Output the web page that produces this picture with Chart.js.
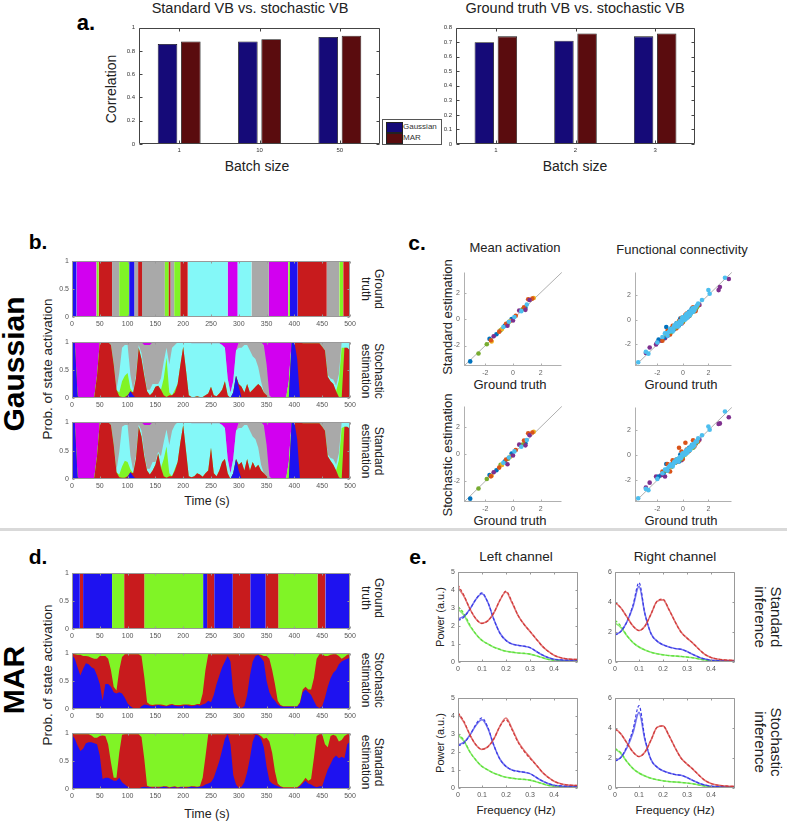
<!DOCTYPE html>
<html><head><meta charset="utf-8">
<script src="https://cdn.jsdelivr.net/npm/chart.js@4.4.1/dist/chart.umd.min.js"></script>
<style>
body{margin:0;background:#fff;width:787px;height:822px;position:relative;overflow:hidden;font-family:"Liberation Sans",Arial,Helvetica,sans-serif;color:#222}
canvas{position:absolute}
.t{position:absolute;white-space:nowrap;transform:translate(-50%,-50%);line-height:1.08;text-align:center}
.rl{transform:translate(-50%,-50%) rotate(-90deg)}
.rr{transform:translate(-50%,-50%) rotate(90deg)}
.b{font-weight:bold;color:#000}
.lg{position:absolute;left:382px;top:119px;width:58px;height:24px;border:1px solid #555;background:#fff;font-size:8px;color:#333}
.lg div{position:absolute;left:3px;width:15px;height:9px;border:1px solid #222}
.lg span{position:absolute;left:20px}
</style></head><body>

<div class="t b" style="left:86px;top:23px;font-size:22px">a.</div>
<div class="t" style="left:250px;top:9px;font-size:14.5px">Standard VB vs. stochastic VB</div>
<div class="t" style="left:575px;top:9px;font-size:14.5px">Ground truth VB vs. stochastic VB</div>
<div class="t rl" style="left:112px;top:89px;font-size:14px">Correlation</div>
<div class="t" style="left:257px;top:167px;font-size:14px">Batch size</div>
<div class="t" style="left:575px;top:167px;font-size:14px">Batch size</div>
<div class="lg"><div style="top:2px;background:#150a78"></div><span style="top:2px">Gaussian</span><div style="top:13px;background:#5a0c0e"></div><span style="top:13px">MAR</span></div>

<div class="t b" style="left:38px;top:242px;font-size:21px">b.</div>
<div class="t b rl" style="left:14px;top:364px;font-size:30px">Gaussian</div>
<div class="t rl" style="left:48px;top:369px;font-size:13.5px">Prob. of state activation</div>
<div class="t rr" style="left:372px;top:289px;font-size:12px">Ground<br>truth</div>
<div class="t rr" style="left:372px;top:371px;font-size:12px">Stochastic<br>estimation</div>
<div class="t rr" style="left:372px;top:451px;font-size:12px">Standard<br>estimation</div>
<div class="t" style="left:207px;top:502px;font-size:12.5px">Time (s)</div>

<div class="t b" style="left:417px;top:243px;font-size:21px">c.</div>
<div class="t" style="left:515px;top:248px;font-size:13px">Mean activation</div>
<div class="t" style="left:682px;top:250px;font-size:13px">Functional connectivity</div>
<div class="t rl" style="left:448px;top:317px;font-size:13px">Standard estimation</div>
<div class="t rl" style="left:448px;top:455px;font-size:13px">Stochastic estimation</div>
<div class="t" style="left:510px;top:385px;font-size:13px">Ground truth</div>
<div class="t" style="left:681px;top:385px;font-size:13px">Ground truth</div>
<div class="t" style="left:510px;top:521px;font-size:13px">Ground truth</div>
<div class="t" style="left:681px;top:521px;font-size:13px">Ground truth</div>

<div style="position:absolute;left:0;top:528px;width:787px;height:3px;background:#d9d9d9"></div>

<div class="t b" style="left:38px;top:557px;font-size:21px">d.</div>
<div class="t b rl" style="left:14px;top:680px;font-size:30px">MAR</div>
<div class="t rl" style="left:48px;top:675px;font-size:13.5px">Prob. of state activation</div>
<div class="t rr" style="left:372px;top:598px;font-size:12px">Ground<br>truth</div>
<div class="t rr" style="left:372px;top:680px;font-size:12px">Stochastic<br>estimation</div>
<div class="t rr" style="left:372px;top:762px;font-size:12px">Standard<br>estimation</div>
<div class="t" style="left:207px;top:815px;font-size:12.5px">Time (s)</div>

<div class="t b" style="left:418px;top:557px;font-size:21px">e.</div>
<div class="t" style="left:516px;top:557px;font-size:13.5px">Left channel</div>
<div class="t" style="left:675px;top:557px;font-size:13.5px">Right channel</div>
<div class="t rl" style="left:441px;top:617px;font-size:11px">Power (a.u.)</div>
<div class="t rl" style="left:441px;top:743px;font-size:11px">Power (a.u.)</div>
<div class="t" style="left:516px;top:810px;font-size:11.5px">Frequency (Hz)</div>
<div class="t" style="left:675px;top:810px;font-size:11.5px">Frequency (Hz)</div>
<div class="t rr" style="left:768px;top:617px;font-size:15px">Standard<br>inference</div>
<div class="t rr" style="left:768px;top:742px;font-size:15px">Stochastic<br>inference</div>

<script>
// ---------- a. correlation bars ----------
const batchLeft = ['1','10','50'];
const batchRight = ['1','2','3'];
const corrStdGauss = [0.86,0.88,0.92];
const corrStdMar = [0.88,0.90,0.93];
const corrGtGauss = [0.70,0.71,0.74];
const corrGtMar = [0.74,0.76,0.76];

// ---------- b./d. time axis ----------
const T5=[0,5,10,15,20,25,30,35,40,45,50,55,60,65,70,75,80,85,90,95,100,105,110,115,120,125,130,135,140,145,150,155,160,165,170,175,180,185,190,195,200,205,210,215,220,225,230,235,240,245,250,255,260,265,270,275,280,285,290,295,300,305,310,315,320,325,330,335,340,345,350,355,360,365,370,375,380,385,390,395,400,405,410,415,420,425,430,435,440,445,450,455,460,465,470,475,480,485,490,495,500];

// Gaussian ground truth segments
const gaussGtBounds=[0,8,44,48,72,85,103,112,119,126,167,174,177,184,195,208,280,298,323,354,389,392,406,458,481,488,500];
const gaussGtStates=['blue','magenta','green','red','gray','green','blue','gray','red','gray','green','red','gray','green','red','cyan','magenta','cyan','gray','magenta','green','blue','red','gray','green','red'];
// MAR ground truth segments
const marGtBounds=[0,14,20,72,94,130,236,243,256,289,321,348,371,442,456,500];
const marGtStates=['blue','red','blue','green','red','green','blue','red','blue','red','blue','red','green','red','blue'];

// Gaussian stochastic estimation
const gsBlue=[1,1,0.03,0,0,0,0,0,0,0, 0,0,0,0,0,0,0,0,0,0, 0.03,0.12,0.05,0,0,0,0,0,0,0, 0,0,0,0,0,0,0,0,0,0, 0,0,0,0,0,0,0,0,0,0, 0,0,0,0,0,0,0,0,0.1,0.4, 0.2,0,0,0,0,0,0,0,0,0, 0,0,0,0,0,0,0,0,0,1, 1,0.7,0,0,0,0,0,0,0,0, 0,0,0,0,0,0,0,0,0,0, 0];
const gsRed=[0,0,0,0,0,0,0,0,0.02,0.4, 1,1,1,1,0.95,0.6,0.15,0.03,0.02,0.02, 0.02,0,0.05,0.35,0.9,0.7,0.4,0.12,0.05,0.1, 0.2,0.22,0.15,0.05,0.02,0.05,0.05,0.1,0.25,0.6, 0.92,0.5,0.05,0.02,0.02,0.03,0.02,0.02,0.05,0.08, 0.2,0.05,0.03,0.08,0.15,0.3,0.05,0,0,0, 0.05,0.2,0.1,0.25,0.1,0.15,0.2,0.25,0.2,0.1, 0.05,0,0,0,0,0,0,0,0,0, 0,0.3,1,0.98,0.98,0.98,0.98,0.98,0.98,0.98, 0.92,0.85,0.38,0.3,0.25,0.12,0.02,0,0.9,0.9, 0.85];
const gsGreen=[0,0,0,0,0,0,0,0,0,0, 0,0,0,0,0,0,0,0.07,0.28,0.38, 0.4,0.05,0,0,0,0,0,0,0,0, 0,0,0,0.3,0.7,0.05,0,0.05,0,0, 0,0,0,0,0,0,0,0,0,0, 0,0,0,0,0,0,0,0,0,0, 0,0,0,0,0,0,0,0,0,0, 0,0,0,0,0,0,0,0,0.3,0, 0,0,0,0,0,0,0,0,0,0, 0,0,0,0,0,0,0.3,0.9,0,0, 0];
const gsCyan=[0,0,0,0,0,0,0,0,0,0, 0,0,0,0,0,0,0,0.35,0.6,0.55, 0.5,0.25,0.05,0.05,0.05,0.1,0.05,0.03,0.1,0.15, 0.05,0.03,0.2,0.3,0.18,0.5,0.85,0.8,0.75,0.4, 0.08,0.5,0.95,0.96,0.96,0.95,0.96,0.96,0.93,0.9, 0.78,0.93,0.95,0.9,0.8,0.6,0.3,0.1,0.2,0.45, 0.65,0.7,0.85,0.7,0.75,0.6,0.5,0.3,0.1,0, 0,0,0,0,0,0,0,0,0,0, 0,0,0,0,0,0,0,0,0,0, 0,0,0.03,0.05,0.08,0.1,0.1,0.1,0.1,0.1, 0.15];
const gsGray=[0,0,0,0,0,0,0,0,0,0, 0,0,0,0,0.05,0.4,0.85,0.55,0.1,0.05, 0.05,0.58,0.85,0.6,0.05,0.2,0.5,0.8,0.8,0.75, 0.75,0.75,0.65,0.35,0.1,0.4,0.1,0.05,0,0, 0,0,0,0,0,0,0,0,0,0, 0,0,0,0,0,0,0,0,0,0, 0.1,0.1,0.05,0.05,0.15,0.25,0.3,0.45,0.7,0.85, 0.55,0.05,0,0,0,0,0,0,0,0, 0,0,0,0.02,0.02,0.02,0.02,0.02,0.02,0.02, 0.08,0.15,0.59,0.65,0.67,0.78,0.58,0,0,0, 0];
const gsMagenta=[0,0,0.97,1,1,1,1,1,0.98,0.6, 0,0,0,0,0,0,0,0,0,0, 0,0,0,0,0,0,0.05,0.05,0.05,0, 0,0,0,0,0,0,0,0,0,0, 0,0,0,0.02,0.02,0.02,0.02,0.02,0.02,0.02, 0.02,0.02,0.02,0.02,0.05,0.1,0.65,0.9,0.7,0.15, 0,0,0,0,0,0,0,0,0,0.05, 0.4,0.95,1,1,1,1,1,1,0.7,0, 0,0,0,0,0,0,0,0,0,0, 0,0,0,0,0,0,0,0,0,0, 0];

// Gaussian standard estimation
const gdBlue=[1,1,0.03,0,0,0,0,0,0,0, 0,0,0,0,0,0,0,0,0,0, 0.03,0.12,0.05,0,0,0,0,0,0,0, 0,0,0,0,0,0,0,0,0,0, 0,0,0,0,0,0,0,0,0,0, 0,0,0,0,0,0,0,0,0.1,0.35, 0.15,0,0,0,0,0,0,0,0,0, 0,0,0,0,0,0,0,0,0,1, 1,0.7,0,0,0,0,0,0,0,0, 0,0,0,0,0,0,0,0,0,0, 0];
const gdRed=[0,0,0,0,0,0,0,0,0.02,0.4, 1,1,1,1,0.95,0.6,0.12,0.03,0.02,0.02, 0.02,0,0.05,0.35,0.92,0.75,0.4,0.15,0.08,0.15, 0.25,0.45,0.2,0.05,0.02,0.05,0.05,0.15,0.3,0.65, 0.95,0.5,0.05,0.03,0.05,0.1,0.08,0.04,0.1,0.15, 0.55,0.1,0.05,0.15,0.3,0.35,0.1,0,0,0, 0.1,0.3,0.15,0.35,0.15,0.3,0.2,0.25,0.15,0.1, 0.05,0,0,0,0,0,0,0,0,0, 0,0.3,1,0.98,0.98,0.98,0.98,0.98,0.98,0.98, 0.92,0.85,0.4,0.32,0.25,0.15,0.03,0,0.92,0.92, 0.88];
const gdGreen=[0,0,0,0,0,0,0,0,0,0, 0,0,0,0,0,0,0,0.05,0.2,0.3, 0.25,0.05,0,0,0,0,0,0,0,0, 0,0,0,0.3,0.55,0.05,0,0.03,0,0, 0,0,0,0,0,0,0,0,0,0, 0,0,0,0,0,0,0,0,0,0, 0,0,0,0,0,0,0,0,0,0, 0,0,0,0,0,0,0,0,0.3,0, 0,0,0,0,0,0,0,0,0,0, 0,0,0,0,0,0,0.3,0.9,0,0, 0];
const gdCyan=[0,0,0,0,0,0,0,0,0,0, 0,0,0,0,0,0,0.03,0.4,0.7,0.63, 0.65,0.25,0.05,0.05,0.04,0.1,0.05,0.03,0.1,0.15, 0.05,0.03,0.2,0.3,0.3,0.5,0.8,0.77,0.7,0.35, 0.05,0.5,0.95,0.95,0.93,0.88,0.9,0.94,0.88,0.83, 0.43,0.88,0.93,0.83,0.65,0.55,0.25,0.1,0.25,0.5, 0.65,0.6,0.8,0.6,0.7,0.45,0.5,0.3,0.1,0, 0,0,0,0,0,0,0,0,0,0, 0,0,0,0,0,0,0,0,0,0, 0,0,0.03,0.05,0.1,0.1,0.12,0.1,0.08,0.08, 0.12];
const gdGray=[0,0,0,0,0,0,0,0,0,0, 0,0,0,0,0.05,0.4,0.85,0.52,0.08,0.05, 0.05,0.58,0.85,0.6,0.04,0.15,0.5,0.77,0.77,0.7, 0.7,0.52,0.6,0.35,0.13,0.4,0.15,0.05,0,0, 0,0,0,0,0,0,0,0,0,0, 0,0,0,0,0,0,0,0,0,0, 0.1,0.1,0.05,0.05,0.15,0.25,0.3,0.45,0.75,0.85, 0.55,0.05,0,0,0,0,0,0,0,0, 0,0,0,0.02,0.02,0.02,0.02,0.02,0.02,0.02, 0.08,0.15,0.57,0.63,0.65,0.75,0.55,0,0,0, 0];
const gdMagenta=[0,0,0.97,1,1,1,1,1,0.98,0.6, 0,0,0,0,0,0,0,0,0,0, 0,0,0,0,0,0,0.05,0.05,0.05,0, 0,0,0,0,0,0,0,0,0,0, 0,0,0,0.02,0.02,0.02,0.02,0.02,0.02,0.02, 0.02,0.02,0.02,0.02,0.05,0.1,0.65,0.9,0.65,0.15, 0,0,0,0,0,0,0,0,0,0.05, 0.4,0.95,1,1,1,1,1,1,0.7,0, 0,0,0,0,0,0,0,0,0,0, 0,0,0,0,0,0,0,0,0,0, 0];

// MAR stochastic estimation
const msBlue=[0.97,0.9,0.75,0.6,0.72,0.82,0.8,0.75,0.72,0.6, 0.45,0.15,0.45,0.45,0.4,0.3,0.28,0.3,0.28,0.2, 0.1,0.05,0.02,0.01,0,0.05,0.08,0.07,0.06,0.05, 0.06,0.07,0.06,0.05,0.05,0.06,0.07,0.06,0.05,0.05, 0.06,0.07,0.06,0.05,0.06,0.07,0.06,0.08,0.1,0.15, 0.12,0.25,0.45,0.6,0.75,0.85,0.95,0.85,0.3,0.1, 0.03,0.02,0.05,0.25,0.6,0.85,0.95,0.97,0.92,0.85, 0.5,0.3,0.2,0.15,0.08,0.05,0.04,0.04,0.04,0.04, 0.04,0.04,0.1,0.3,0.35,0.3,0.25,0.15,0.05,0.02, 0.05,0.2,0.4,0.55,0.65,0.7,0.8,0.85,0.88,0.9, 0.92];
const msRed=[0.02,0.08,0.22,0.37,0.23,0.13,0.14,0.17,0.18,0.3, 0.5,0.8,0.5,0.45,0.3,0.1,0.05,0.4,0.65,0.78, 0.88,0.93,0.96,0.97,0.98,0.9,0.5,0.05,0.02,0.02, 0.02,0.01,0.02,0.02,0.01,0.02,0.02,0.01,0.02,0.02, 0.02,0.01,0.02,0.02,0.01,0.02,0.03,0.2,0.6,0.83, 0.86,0.73,0.53,0.38,0.23,0.13,0.03,0.13,0.68,0.88, 0.95,0.96,0.93,0.73,0.38,0.13,0.03,0.01,0.05,0.1, 0.45,0.6,0.5,0.3,0.07,0.02,0.01,0.01,0.01,0.01, 0.01,0.01,0.02,0.05,0.05,0.05,0.1,0.4,0.85,0.96, 0.93,0.75,0.55,0.42,0.33,0.28,0.15,0.05,0.05,0.07, 0.06];
const msGreen=[0.01,0.02,0.03,0.03,0.05,0.05,0.06,0.08,0.1,0.1, 0.05,0.05,0.05,0.1,0.3,0.6,0.67,0.3,0.07,0.02, 0.02,0.02,0.02,0.02,0.02,0.05,0.42,0.88,0.92,0.93, 0.92,0.92,0.92,0.93,0.94,0.92,0.91,0.93,0.93,0.93, 0.92,0.92,0.92,0.93,0.93,0.91,0.91,0.72,0.3,0.02, 0.02,0.02,0.02,0.02,0.02,0.02,0.02,0.02,0.02,0.02, 0.02,0.02,0.02,0.02,0.02,0.02,0.02,0.02,0.03,0.05, 0.05,0.1,0.3,0.55,0.85,0.93,0.95,0.95,0.95,0.95, 0.95,0.95,0.88,0.65,0.6,0.65,0.65,0.45,0.1,0.02, 0.02,0.05,0.05,0.03,0.02,0.02,0.05,0.1,0.07,0.03, 0.02];

// MAR standard estimation
const mdBlue=[0.97,0.9,0.78,0.68,0.72,0.82,0.84,0.84,0.82,0.8, 0.6,0.18,0.2,0.2,0.18,0.15,0.15,0.2,0.12,0.08, 0.04,0.02,0.01,0,0.01,0.03,0.04,0.03,0.03,0.02, 0.03,0.02,0.03,0.04,0.03,0.02,0.03,0.03,0.02,0.03, 0.03,0.02,0.03,0.04,0.03,0.03,0.04,0.05,0.08,0.1, 0.12,0.2,0.35,0.5,0.7,0.9,0.98,0.8,0.25,0.08, 0.02,0.04,0.12,0.3,0.55,0.85,0.97,0.96,0.9,0.75, 0.4,0.15,0.1,0.07,0.05,0.03,0.02,0.02,0.02,0.02, 0.02,0.02,0.05,0.1,0.15,0.1,0.08,0.05,0.03,0.05, 0.05,0.2,0.35,0.45,0.55,0.6,0.55,0.58,0.55,0.8, 0.85];
const mdRed=[0.02,0.08,0.2,0.3,0.26,0.16,0.14,0.12,0.1,0.12, 0.35,0.78,0.75,0.6,0.3,0.05,0.05,0.45,0.85,0.9, 0.94,0.96,0.97,0.98,0.97,0.9,0.5,0.03,0.01,0.02, 0.01,0.02,0.01,0.01,0.02,0.01,0.01,0.02,0.01,0.01, 0.01,0.02,0.01,0.01,0.02,0.01,0.01,0.15,0.5,0.88, 0.86,0.78,0.63,0.48,0.28,0.08,0.01,0.18,0.73,0.9, 0.96,0.94,0.86,0.68,0.43,0.13,0.02,0.02,0.05,0.15, 0.52,0.7,0.55,0.25,0.05,0.02,0.01,0.01,0.01,0.01, 0.01,0.01,0.02,0.03,0.05,0.05,0.1,0.5,0.92,0.93, 0.93,0.6,0.4,0.5,0.42,0.35,0.3,0.3,0.4,0.18, 0.13];
const mdGreen=[0.01,0.02,0.02,0.02,0.02,0.02,0.02,0.04,0.08,0.08, 0.05,0.04,0.05,0.2,0.52,0.8,0.8,0.35,0.03,0.02, 0.02,0.02,0.02,0.02,0.02,0.07,0.46,0.94,0.96,0.96, 0.96,0.96,0.96,0.95,0.95,0.97,0.96,0.95,0.97,0.96, 0.96,0.96,0.96,0.95,0.95,0.96,0.95,0.8,0.42,0.02, 0.02,0.02,0.02,0.02,0.02,0.02,0.01,0.02,0.02,0.02, 0.02,0.02,0.02,0.02,0.02,0.02,0.01,0.02,0.05,0.1, 0.08,0.15,0.35,0.68,0.9,0.95,0.97,0.97,0.97,0.97, 0.97,0.97,0.93,0.87,0.8,0.85,0.82,0.45,0.05,0.02, 0.02,0.2,0.25,0.05,0.03,0.05,0.15,0.12,0.05,0.02, 0.02];

// ---------- c. scatter (ground truth x, estimation y) ----------
const maBlueX=[-3.1,-1.7,-1.2,-0.6,-0.1,0.9], maBlueStd=[-3.2,-1.5,-1.15,-0.5,0.0,0.85], maBlueSto=[-3.3,-1.55,-1.2,-0.55,0.05,0.8];
const maOrangeX=[-1.6,-1.0,-0.5,0.2,0.8,1.1,1.4], maOrangeStd=[-1.6,-0.95,-0.35,0.25,0.9,1.5,1.55], maOrangeSto=[-1.65,-1.0,-0.4,0.3,1.0,1.55,1.6];
const maYellowX=[-1.55,-0.8,-0.2,1.5], maYellowStd=[-1.7,-0.75,-0.15,1.6], maYellowSto=[-1.6,-0.8,-0.2,1.65];
const maPurpleX=[-1.4,-0.4,0,0.45,0.9,1.2], maPurpleStd=[-1.3,-0.5,-0.1,0.65,0.7,1.45], maPurpleSto=[-1.35,-0.75,-0.1,0.7,0.65,1.4];
const maGreenX=[-2.5,-1.9,-0.9,-0.35,0.7], maGreenStd=[-2.6,-1.9,-0.85,-0.3,0.75], maGreenSto=[-2.55,-1.85,-0.8,-0.35,0.7];
const maLightX=[-0.7,-0.3,0.1,0.6,1.0], maLightStd=[-0.6,-0.2,0.15,0.6,1.1], maLightSto=[-0.65,-0.25,0.2,0.55,1.05];

const fcBlueX=[-1.9,-1.5,-1.3,-1.1,-0.9,-0.7,-0.5,-0.3,0.1,0.4,0.7,1.0,-0.2,0.5], fcBlueStd=[-1.6,-1.5,-0.6,-1.2,-0.7,-0.8,-0.3,-0.45,0.2,0.3,0.9,0.8,0.1,0.65], fcBlueSto=[-1.7,-1.4,-0.7,-1.0,-0.75,-0.6,-0.35,-0.5,0.15,0.35,0.8,0.95,0.05,0.6];
const fcOrangeX=[-1.6,-1.2,-1.0,-0.8,-0.5,-0.3,0,0.2,0.5,0.8,1.0,1.2,-0.1,0.3], fcOrangeStd=[-1.7,-0.9,-1.2,-0.5,-0.7,-0.1,-0.2,0.4,0.3,1.0,0.7,1.15,0.15,0.5], fcOrangeSto=[-1.3,-0.7,-1.3,-0.4,-0.5,0.6,-0.3,1.0,0.35,1.2,0.9,1.1,0.3,0.45];
const fcYellowX=[-1.0,-0.4,0.2,0.6,0.9,-0.7], fcYellowStd=[-0.9,-0.5,0.1,0.45,0.8,-0.55], fcYellowSto=[-0.95,-0.45,0.05,0.5,0.75,-0.6];
const fcPurpleX=[-2.9,-2.6,-2.1,-2.0,-1.7,-1.4,-1.2,-0.8,-0.5,-0.1,0.4,0.9,1.3,2.8,2.9,3.6], fcPurpleStd=[-2.7,-2.25,-2.0,-1.85,-1.7,-1.5,-1.3,-0.7,-0.6,-0.3,0.25,0.8,1.2,2.4,2.65,3.3], fcPurpleSto=[-2.6,-2.2,-1.7,-1.8,-1.6,-1.7,-1.2,-0.75,-0.55,-0.4,0.3,0.7,1.25,2.5,2.55,3.05];
const fcGreenX=[-1.3,-0.9,-0.6,-0.2,0.2,0.5,0.8,1.1,-0.4,0.0], fcGreenStd=[-1.2,-1.0,-0.65,-0.3,0.05,0.35,0.65,1.0,-0.25,-0.15], fcGreenSto=[-1.25,-0.95,-0.6,-0.35,0.1,0.4,0.6,1.05,-0.3,-0.1];
const fcLightX=[-3.5,-2.9,-2.7,-2.0,-1.6,-1.3,-1.1,-0.9,-0.75,-0.6,-0.5,-0.4,-0.3,-0.2,-0.1,0,0.1,0.2,0.3,0.4,0.5,0.6,0.7,0.85,1.0,1.2,1.5,2.0,2.1,3.3,-0.55,-0.25,0.05,0.25,0.45,0.65,-1.4,-1.2,-1.0,-0.8,-0.65,-0.45,-0.35,-0.15,0,0.15,0.3,0.35,0.55,0.75,0.9,1.1,-0.05,0.2,-0.7,0.8];
const fcLightStd=[-3.45,-2.6,-2.75,-1.85,-1.4,-1.1,-1.0,-0.75,-0.8,-0.5,-0.55,-0.3,-0.35,-0.1,-0.2,0.05,0,0.3,0.2,0.5,0.4,0.7,0.6,0.95,1.0,1.3,1.6,2.4,2.1,3.4,-0.4,-0.15,0.15,0.4,0.55,0.55,-1.1,-1.3,-0.75,-0.95,-0.45,-0.3,-0.55,-0.3,0.2,0.0,0.45,0.15,0.35,0.9,0.75,1.15,0.15,0.05,-0.55,0.65];
const fcLightSto=[-3.45,-2.7,-2.8,-1.9,-1.45,-1.15,-0.95,-0.8,-0.7,-0.55,-0.45,-0.35,-0.25,-0.15,-0.1,0,0.05,0.25,0.3,0.45,0.45,0.65,0.65,0.9,1.1,1.35,1.6,2.3,2.05,3.5,-0.5,-0.2,0.1,0.35,0.5,0.6,-1.15,-1.25,-0.8,-0.9,-0.5,-0.35,-0.5,-0.25,0.15,0.05,0.4,0.2,0.4,0.85,0.8,1.1,0.1,0.1,-0.6,0.7];
const identityLine=[-4,4];
const scatterTicks=[-2,0,2];

// ---------- e. power spectra ----------
const FREQ=[0,0.025,0.05,0.075,0.1,0.125,0.15,0.175,0.2,0.225,0.25,0.275,0.3,0.325,0.35,0.375,0.4,0.425,0.45,0.475,0.5];
const freqTicks=[0,0.1,0.2,0.3,0.4];
const leftTrueRed=[4.15,3.65,2.95,2.4,2.15,2.3,2.75,3.45,3.9,3.3,2.6,2.1,1.7,1.3,0.9,0.6,0.38,0.25,0.18,0.15,0.14];
const leftTrueBlue=[2.4,2.55,2.95,3.5,3.8,3.3,2.35,1.6,1.2,1.0,0.93,0.88,0.8,0.6,0.4,0.25,0.15,0.12,0.1,0.1,0.1];
const leftTrueGreen=[2.95,2.6,2.0,1.55,1.2,1.0,0.82,0.7,0.6,0.55,0.5,0.48,0.44,0.35,0.25,0.15,0.1,0.07,0.05,0.05,0.05];
const leftStdRed=[4.3,3.7,2.95,2.4,2.15,2.3,2.75,3.45,3.95,3.35,2.6,2.1,1.7,1.3,0.9,0.6,0.38,0.25,0.18,0.15,0.14];
const leftStdBlue=[2.3,2.5,2.95,3.5,3.85,3.3,2.35,1.6,1.2,1.0,0.93,0.88,0.8,0.6,0.4,0.25,0.15,0.12,0.1,0.1,0.1];
const leftStdGreen=[3.1,2.7,2.05,1.55,1.2,1.0,0.82,0.7,0.6,0.55,0.5,0.48,0.44,0.35,0.25,0.15,0.1,0.07,0.05,0.05,0.05];
const leftStoRed=[4.2,3.7,2.95,2.4,2.15,2.3,2.75,3.45,3.8,3.25,2.55,2.05,1.65,1.3,0.9,0.6,0.38,0.25,0.18,0.15,0.14];
const leftStoBlue=[2.35,2.5,2.95,3.55,3.9,3.35,2.35,1.6,1.2,1.0,0.93,0.88,0.8,0.6,0.4,0.25,0.15,0.12,0.1,0.1,0.1];
const leftStoGreen=[3.05,2.65,2.0,1.55,1.2,1.0,0.82,0.7,0.6,0.55,0.5,0.48,0.44,0.35,0.25,0.15,0.1,0.07,0.05,0.05,0.05];
const rightTrueRed=[4.0,3.6,3.0,2.4,2.1,2.4,3.2,4.05,4.15,3.5,2.7,2.0,1.6,1.25,0.85,0.5,0.3,0.2,0.15,0.12,0.1];
const rightTrueBlue=[1.8,2.05,2.7,3.7,5.05,3.2,1.9,1.4,1.15,1.0,0.9,0.85,0.7,0.5,0.32,0.2,0.12,0.1,0.08,0.07,0.07];
const rightTrueGreen=[2.6,2.3,1.75,1.3,1.0,0.8,0.65,0.55,0.48,0.43,0.4,0.37,0.33,0.28,0.2,0.13,0.08,0.06,0.05,0.04,0.04];
const rightStdRed=[4.0,3.6,3.0,2.4,2.1,2.4,3.2,4.05,4.2,3.5,2.7,2.0,1.6,1.25,0.85,0.5,0.3,0.2,0.15,0.12,0.1];
const rightStdBlue=[1.8,2.05,2.7,3.8,5.3,3.2,1.9,1.4,1.15,1.0,0.9,0.85,0.7,0.5,0.32,0.2,0.12,0.1,0.08,0.07,0.07];
const rightStdGreen=[2.8,2.4,1.75,1.3,1.0,0.8,0.65,0.55,0.48,0.43,0.4,0.37,0.33,0.28,0.2,0.13,0.08,0.06,0.05,0.04,0.04];
const rightStoRed=[3.95,3.6,3.0,2.4,2.1,2.4,3.2,4.05,4.15,3.5,2.7,2.0,1.6,1.25,0.85,0.5,0.3,0.2,0.15,0.12,0.1];
const rightStoBlue=[1.8,2.05,2.8,3.9,5.5,3.3,1.9,1.4,1.15,1.0,0.9,0.85,0.7,0.5,0.32,0.2,0.12,0.1,0.08,0.07,0.07];
const rightStoGreen=[2.65,2.35,1.75,1.3,1.0,0.8,0.65,0.55,0.48,0.43,0.4,0.37,0.33,0.28,0.2,0.13,0.08,0.06,0.05,0.04,0.04];

// ---------- styling ----------
const STATE_COLORS={blue:'#1e12f0',red:'#c81b1d',green:'#80f426',cyan:'#84f8f8',gray:'#a9a9a9',magenta:'#d200f0'};
const C_GAUSS='#150a78', C_MAR='#5a0c0e';
const MC={blue:'#0072BD',orange:'#D95319',yellow:'#EDB120',purple:'#7E2F8E',green:'#77AC30',light:'#4DBEEE'};
const LINE_COLORS={red:'#d23a3a',blue:'#3a3ae6',green:'#5ee03a'};

Chart.defaults.font.family='"Liberation Sans", Arial, sans-serif';
Chart.defaults.animation=false;
Chart.defaults.responsive=false;
Chart.defaults.devicePixelRatio=1;
Chart.defaults.events=[];
Chart.defaults.plugins.legend.display=false;
Chart.defaults.plugins.tooltip.enabled=false;

const framePlugin={id:'frame',afterDatasetsDraw(chart,args,o){
  if(!o||!o.color)return;
  const ctx=chart.ctx,a=chart.chartArea;
  const l=Math.round(a.left)+0.5,r=Math.round(a.right)-0.5,t=Math.round(a.top)+0.5,b=Math.round(a.bottom)-0.5;
  ctx.save();ctx.strokeStyle=o.color;ctx.lineWidth=1;ctx.beginPath();
  if(o.box){ctx.rect(l,t,r-l,b-t);}else{ctx.moveTo(l,t);ctx.lineTo(l,b);ctx.lineTo(r,b);}
  ctx.stroke();
  const k=o.tick||0;
  if(k){ctx.beginPath();
    const xs=chart.scales.x,ys=chart.scales.y;
    xs.ticks.forEach((tk,i)=>{const p=Math.round(xs.getPixelForTick(i))+0.5;ctx.moveTo(p,b);ctx.lineTo(p,b-k);if(o.box){ctx.moveTo(p,t);ctx.lineTo(p,t+k);}});
    ys.ticks.forEach((tk,i)=>{const p=Math.round(ys.getPixelForTick(i))+0.5;ctx.moveTo(l,p);ctx.lineTo(l+k,p);if(o.box){ctx.moveTo(r,p);ctx.lineTo(r-k,p);}});
    ctx.stroke();}
  ctx.restore();
}};
Chart.register(framePlugin);

function mk(L,T,W,H,pad,cfg){
  const c=document.createElement('canvas');
  const cw=W+pad[0]+pad[1],ch=H+pad[2]+pad[3];
  c.width=cw;c.height=ch;
  c.style.left=(L-pad[0])+'px';c.style.top=(T-pad[2])+'px';
  c.style.width=cw+'px';c.style.height=ch+'px';
  document.body.appendChild(c);
  cfg.options.layout={padding:{left:0,right:pad[1],top:pad[2],bottom:0}};
  cfg.options.scales.x.afterFit=s=>{s.height=pad[3];};
  cfg.options.scales.y.afterFit=s=>{s.width=pad[0];};
  return new Chart(c,cfg);
}
const NOGRID={display:false,drawTicks:false,drawOnChartArea:false,tickLength:0};
const plainNum=v=>String(Math.round(v*1000)/1000);
const tickFont=(sz,col,pd)=>({font:{size:sz},color:col||'#555',padding:pd,maxRotation:0,autoSkip:false,callback:function(v,i,ticks){return this.type==='category'?this.getLabelForValue(v):plainNum(v);}});
function fixedTicks(vals){return s=>{s.ticks=vals.map(v=>({value:v}));};}
function pts(xs,ys){return xs.map((x,i)=>({x:x,y:ys[i]}));}

// ---------- a. ----------
function barChart(L,W,labels,g,m,ymax,step){
  mk(L,26,W,118,[24,10,6,16],{type:'bar',data:{labels:labels,datasets:[
    {data:g,backgroundColor:C_GAUSS,borderColor:'#111',borderWidth:0.8,categoryPercentage:0.58,barPercentage:0.84},
    {data:m,backgroundColor:C_MAR,borderColor:'#111',borderWidth:0.8,categoryPercentage:0.58,barPercentage:0.84}]},
    options:{scales:{
      x:{grid:NOGRID,border:{display:false},ticks:tickFont(6,'#333',3)},
      y:{min:0,max:ymax,grid:NOGRID,border:{display:false},ticks:Object.assign(tickFont(6,'#333',4),{stepSize:step})}},
      plugins:{frame:{color:'#444',box:true,tick:3}}}});
}
barChart(139,241,batchLeft,corrStdGauss,corrStdMar,1,0.2);
barChart(456,239,batchRight,corrGtGauss,corrGtMar,0.8,0.1);

// ---------- b./d. ----------
function segPoints(bounds,states,name){
  const out=[];
  states.forEach((s,i)=>{if(s===name){out.push({x:bounds[i],y:0},{x:bounds[i],y:1},{x:bounds[i+1],y:1},{x:bounds[i+1],y:0});}});
  return out;
}
function areaScales(stacked){
  return {
    x:{type:'linear',min:0,max:500,grid:NOGRID,border:{display:false},ticks:Object.assign(tickFont(7,'#555',3),{stepSize:50})},
    y:{type:'linear',min:0,max:1,stacked:stacked,grid:NOGRID,border:{display:false},afterBuildTicks:fixedTicks([0,0.5,1]),ticks:tickFont(7,'#555',3)}
  };
}
function gtChart(T,H,bounds,states,names){
  const ds=names.map(n=>({data:segPoints(bounds,states,n),backgroundColor:STATE_COLORS[n],borderWidth:0,pointRadius:0,fill:'origin',tension:0}));
  mk(72,T,278,H,[16,10,6,16],{type:'line',data:{datasets:ds},options:{scales:areaScales(false),plugins:{frame:{color:'#999',box:true,tick:2}}}});
}
function estChart(T,H,series){
  const ds=series.map(([n,arr])=>({data:pts(T5,arr),backgroundColor:STATE_COLORS[n],borderWidth:0,pointRadius:0,fill:'origin',tension:0}));
  mk(72,T,278,H,[16,10,6,16],{type:'line',data:{datasets:ds},options:{scales:areaScales(true),plugins:{frame:{color:'#999',box:true,tick:2}}}});
}
const gaussNames=['blue','red','green','cyan','gray','magenta'];
gtChart(260,57,gaussGtBounds,gaussGtStates,gaussNames);
estChart(341,57,[['blue',gsBlue],['red',gsRed],['green',gsGreen],['cyan',gsCyan],['gray',gsGray],['magenta',gsMagenta]]);
estChart(421,58,[['blue',gdBlue],['red',gdRed],['green',gdGreen],['cyan',gdCyan],['gray',gdGray],['magenta',gdMagenta]]);
gtChart(572,57,marGtBounds,marGtStates,['blue','red','green']);
estChart(652,57,[['blue',msBlue],['red',msRed],['green',msGreen]]);
estChart(732,57,[['blue',mdBlue],['red',mdRed],['green',mdGreen]]);

// ---------- c. ----------
function scatterChart(L,T,W,H,lo,hi,groups){
  const ds=groups.map(([c,xs,ys])=>({type:'scatter',data:pts(xs,ys),backgroundColor:MC[c],borderWidth:0,pointRadius:2.3}));
  ds.push({type:'line',data:pts(identityLine,identityLine),borderColor:'#9a9a9a',borderWidth:0.8,pointRadius:0,fill:false});
  mk(L,T,W,H,[14,8,6,14],{type:'scatter',data:{datasets:ds},options:{scales:{
    x:{type:'linear',min:lo,max:hi,grid:NOGRID,border:{display:false},afterBuildTicks:fixedTicks(scatterTicks),ticks:tickFont(7,'#666',3)},
    y:{type:'linear',min:lo,max:hi,grid:NOGRID,border:{display:false},afterBuildTicks:fixedTicks(scatterTicks),ticks:tickFont(7,'#666',4)}},
    plugins:{frame:{color:'#b0b0b0',box:false,tick:2}}}});
}
scatterChart(464,270,98,96,-3.55,3.55,[['light',maLightX,maLightStd],['purple',maPurpleX,maPurpleStd],['orange',maOrangeX,maOrangeStd],['yellow',maYellowX,maYellowStd],['green',maGreenX,maGreenStd],['blue',maBlueX,maBlueStd]]);
scatterChart(635,270,97,96,-3.75,3.85,[['light',fcLightX,fcLightStd],['yellow',fcYellowX,fcYellowStd],['green',fcGreenX,fcGreenStd],['orange',fcOrangeX,fcOrangeStd],['blue',fcBlueX,fcBlueStd],['purple',fcPurpleX,fcPurpleStd]]);
scatterChart(464,404,98,98,-3.55,3.55,[['light',maLightX,maLightSto],['purple',maPurpleX,maPurpleSto],['orange',maOrangeX,maOrangeSto],['yellow',maYellowX,maYellowSto],['green',maGreenX,maGreenSto],['blue',maBlueX,maBlueSto]]);
scatterChart(635,405,97,97,-3.75,3.85,[['light',fcLightX,fcLightSto],['yellow',fcYellowX,fcYellowSto],['green',fcGreenX,fcGreenSto],['orange',fcOrangeX,fcOrangeSto],['blue',fcBlueX,fcBlueSto],['purple',fcPurpleX,fcPurpleSto]]);

// ---------- e. ----------
function specChart(L,T,ymax,ystep,trueSet,estSet){
  const ds=[];
  ['red','blue','green'].forEach((c,i)=>{
    ds.push({data:pts(FREQ,estSet[i]),borderColor:LINE_COLORS[c],borderWidth:1.2,borderDash:[3,2],pointRadius:0,cubicInterpolationMode:'monotone',fill:false});
    ds.push({data:pts(FREQ,trueSet[i]),borderColor:LINE_COLORS[c]+'b0',borderWidth:1.6,pointRadius:0,cubicInterpolationMode:'monotone',fill:false});
  });
  mk(L,T,120,91,[14,8,6,14],{type:'line',data:{datasets:ds},options:{scales:{
    x:{type:'linear',min:0,max:0.5,grid:NOGRID,border:{display:false},afterBuildTicks:fixedTicks(freqTicks),ticks:tickFont(7,'#555',3)},
    y:{type:'linear',min:0,max:ymax,grid:NOGRID,border:{display:false},ticks:Object.assign(tickFont(7,'#555',3),{stepSize:ystep})}},
    plugins:{frame:{color:'#999',box:true,tick:2}}}});
}
specChart(458,571,5,1,[leftTrueRed,leftTrueBlue,leftTrueGreen],[leftStdRed,leftStdBlue,leftStdGreen]);
specChart(615,571,6,2,[rightTrueRed,rightTrueBlue,rightTrueGreen],[rightStdRed,rightStdBlue,rightStdGreen]);
specChart(458,697,5,1,[leftTrueRed,leftTrueBlue,leftTrueGreen],[leftStoRed,leftStoBlue,leftStoGreen]);
specChart(615,697,6,2,[rightTrueRed,rightTrueBlue,rightTrueGreen],[rightStoRed,rightStoBlue,rightStoGreen]);
</script>
</body></html>
